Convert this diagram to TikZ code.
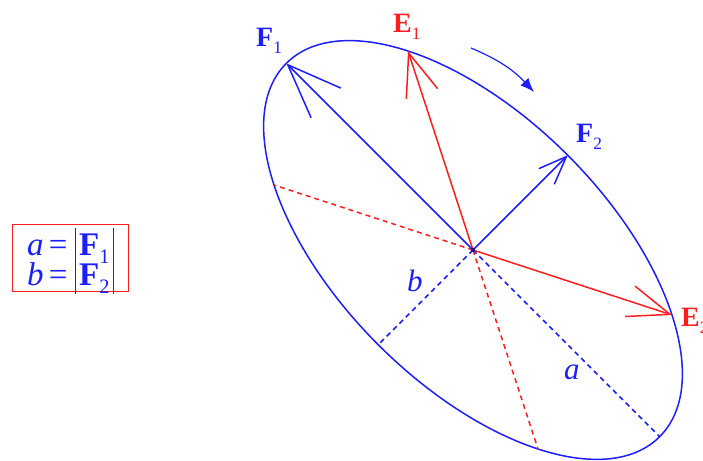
\documentclass[tikz,border=0pt]{standalone}
\usepackage{fontspec}
\setmainfont{Liberation Serif}
\usetikzlibrary{arrows.meta}
\definecolor{myblue}{RGB}{30,30,250}
\definecolor{myred}{RGB}{250,30,30}
\newcommand{\vlab}[2]{\textbf{#1}\raisebox{-0.22em}{\fontsize{0.62em}{0.62em}\selectfont #2}}
\newcommand{\absbar}{\rule[-0.24em]{1pt}{1.08em}}
\begin{document}
\begin{tikzpicture}[x=1pt,y=1pt,
  bl/.style={myblue, line width=1.5pt},
  rd/.style={myred, line width=1.5pt},
  dashline/.style={dash pattern=on 5pt off 4pt, line width=1.5pt},
  lab/.style={font=\fontsize{28}{28}\selectfont, inner sep=0pt, anchor=base west},
  ital/.style={font=\fontsize{31}{31}\selectfont\itshape, inner sep=0pt, myblue, anchor=base west},
  leg/.style={font=\fontsize{33}{33}\selectfont, inner sep=0pt, myblue, anchor=base west}]
\useasboundingbox (0,0) rectangle (703,460);
\coordinate (O) at (473,210);
\coordinate (F1) at (286.3,396.7);
\coordinate (F2) at (567.8,304.8);
\coordinate (A) at (659.7,23.3);
\coordinate (B) at (378.2,115.2);
\coordinate (E1) at (408,409);
\coordinate (E2) at (672,145);
\coordinate (R1) at (274,275);
\coordinate (R2) at (538,11);
\coordinate (C1) at (471,412);
\coordinate (C2) at (534,368);

% ellipse
\draw[bl, rotate around={135:(O)}] (O) ellipse [x radius=264pt, y radius=134pt];

% dashed semi-axes and conjugate diameters
\draw[bl, dashline] (O) -- (A);
\draw[bl, dashline] (O) -- (B);
\draw[rd, dashline] (O) -- (R1);
\draw[rd, dashline] (O) -- (R2);

% vectors
\draw[bl, -{Straight Barb[length=54pt,width=42pt]}] (O) -- (F1);
\draw[bl, -{Straight Barb[length=28pt,width=22pt]}] (O) -- (F2);
\draw[rd, -{Straight Barb[length=43pt,width=33pt]}] (O) -- (E1);
\draw[rd, -{Straight Barb[length=42pt,width=32pt]}] (O) -- (E2);

% rotation arrow
\draw[myblue, line width=1.2pt, -{Latex[length=14pt,width=11pt]}] (C1) to[bend left=12] (C2);

% centre dot
\node[fill=myblue!60!black, minimum size=4.5pt, inner sep=0pt] (Od) at (O) {};

% labels
\node[lab, myblue] (LF1) at (256,413) {\vlab{F}{1}};
\node[lab, myred]  (LE1) at (393,427) {\vlab{E}{1}};
\node[lab, myblue] (LF2) at (576,317) {\vlab{F}{2}};
\node[lab, myred]  (LE2) at (681,133) {\vlab{E}{2}};
\node[ital] (Lb) at (407,168) {b};
\node[ital] (La) at (564,80) {a};

% legend
\node[draw=myred, line width=1pt, minimum width=116pt, minimum height=67pt, inner sep=0pt] (box) at (70,201.5) {};
\node[leg] (leg1) at (27,204) {\textit{a}\hspace{0.16em}=\hspace{0.22em}\absbar\hspace{0.1em}\vlab{F}{1}\hspace{0.12em}\absbar};
\node[leg] (leg2) at (27,174) {\textit{b}\hspace{0.16em}=\hspace{0.22em}\absbar\hspace{0.1em}\vlab{F}{2}\hspace{0.12em}\absbar};
\end{tikzpicture}
\end{document}
